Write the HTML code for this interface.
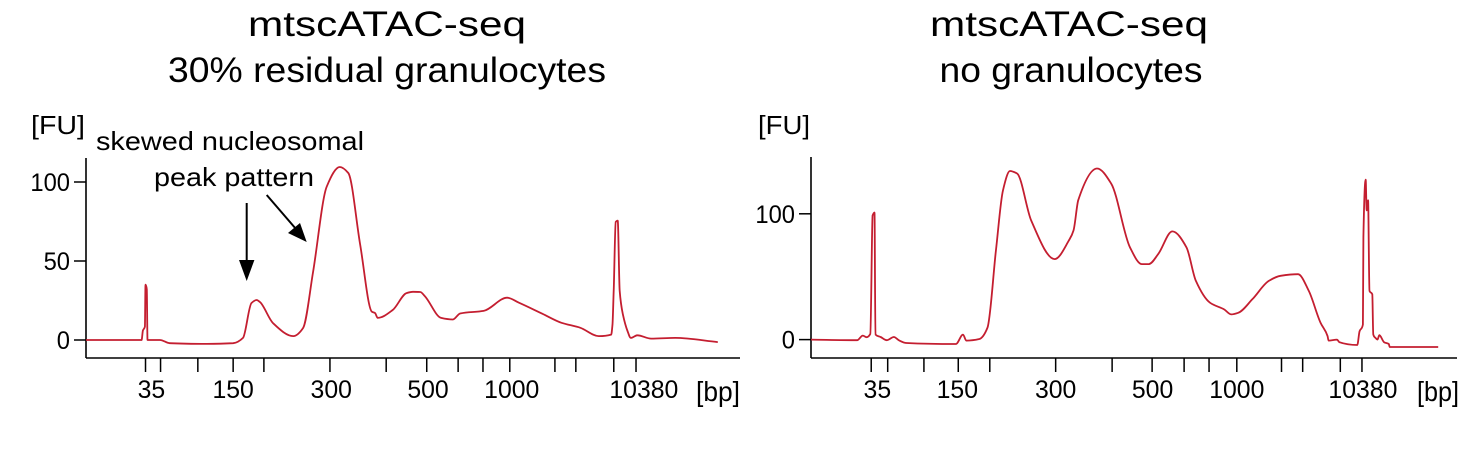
<!DOCTYPE html>
<html><head><meta charset="utf-8"><style>
html,body{margin:0;padding:0;background:#fff;}
svg{display:block;font-family:"Liberation Sans",Arial,sans-serif;}
</style></head><body>
<svg id="chart" width="1477" height="457" viewBox="0 0 1477 457">
<text x="387" y="36" font-size="35" text-anchor="middle" textLength="278" lengthAdjust="spacingAndGlyphs">mtscATAC-seq</text>
<text x="387" y="82" font-size="35" text-anchor="middle" textLength="438" lengthAdjust="spacingAndGlyphs">30% residual granulocytes</text>
<text x="1069" y="36" font-size="35" text-anchor="middle" textLength="278" lengthAdjust="spacingAndGlyphs">mtscATAC-seq</text>
<text x="1071" y="82" font-size="35" text-anchor="middle" textLength="263" lengthAdjust="spacingAndGlyphs">no granulocytes</text>
<text x="31" y="134" font-size="26" textLength="54" lengthAdjust="spacingAndGlyphs">[FU]</text>
<text x="758" y="134" font-size="26" textLength="52" lengthAdjust="spacingAndGlyphs">[FU]</text>
<text x="96" y="150" font-size="26" textLength="268" lengthAdjust="spacingAndGlyphs">skewed nucleosomal</text>
<text x="154" y="186" font-size="26" textLength="160" lengthAdjust="spacingAndGlyphs">peak pattern</text>
<g>
<line x1="246.7" y1="203" x2="246.7" y2="265" stroke="#000" stroke-width="2"/>
<polygon points="239,260 254.4,260 246.7,281" fill="#000"/>
</g>
<g>
<line x1="266.7" y1="195" x2="296" y2="229" stroke="#000" stroke-width="2"/>
<polygon points="288,233 300,223 306.7,242" fill="#000"/>
</g>
<text x="696" y="401" font-size="28" textLength="44" lengthAdjust="spacingAndGlyphs">[bp]</text>
<text x="1417" y="401" font-size="28" textLength="42" lengthAdjust="spacingAndGlyphs">[bp]</text>
<g id="g"></g>
</svg>
<script>
// Left chart data (migration time units, FU)
const leftTime = [0,8.5,8.7,9.0,9.1,9.3,9.4,11.3,12.8,18.5,22.5,24.0,25.3,26.1,26.6,28.6,31.7,33.2,34.7,36.8,38.8,40.1,41.9,43.7,44.2,44.6,46.9,49.0,50.0,51.1,51.8,54.3,56.1,57.2,60.8,64.4,66.2,69.8,72.7,75.6,78.4,80.3,80.5,80.7,81.0,81.3,81.6,82.1,82.8,83.3,84.3,86.4,90.1,96.6];
const leftFU = [0,0,6,8.4,35,32,0,0,-2,-2.5,-2,1.3,23.4,25.3,24,10.7,2.5,7.6,42.4,97,109.5,105.7,61,18,17,14,19,29.7,30.5,30.4,27.8,14,13,16.8,18.4,26.8,23.6,16.6,10.9,7.7,2.5,3.4,9.8,33,74.7,75.6,31,16.2,5.7,1.3,3,0.9,1.3,-1.3];
const leftTickTimes = [9.1,11.4,17.1,22.5,27.2,37.3,45.9,52.1,56.9,60.7,64.8,71.7,74.9,80.7,84.1];
const leftLabelTimes = [10,22.5,37.5,52.3,65.1,85.3];
const leftLabels = ["35","150","300","500","1000","10380"];
const leftYTicks = [0,50,100];

// Right chart data
const rightTime = [152,250,262,270,278,283,287,289,300,313,328,340,355,460,475,482,510,527,545,560,575,590,620,670,700,710,720,760,790,830,855,870,890,920,950,970,1000,1030,1045,1060,1090,1125,1150,1187,1210,1235,1250,1252,1270,1275,1313,1318,1325,1326,1331,1333,1336,1339,1345,1347,1352,1356,1360,1370,1380,1382,1485];
const rightFU = [0,-0.5,3.2,1.9,4.5,98.7,101,4,2.1,-0.5,2.1,-0.8,-2.7,-3.5,4,-0.8,0.5,9.3,70.7,118.7,134,132,94.7,64,78.7,86.7,110.7,136,124,73.3,60,60,68,86,73.3,46.7,29.3,24,20,21.3,32,46.7,50.7,52,38.7,13.3,2.7,-0.8,0,-2.1,-4.3,6.7,12,81.3,127.2,102.7,110.7,38.7,36,4,1.3,0,3.5,-2.1,-3.5,-5.9,-5.9];
const rightTickTimes = [280,315,392,465,532,672,792,877,945,998,1057,1152,1197,1277,1323];
const rightLabelTimes = [293,463,672,878,1057,1325];
const rightLabels = ["35","150","300","500","1000","10380"];
const rightYTicks = [0,100];

const NS="http://www.w3.org/2000/svg";
const root=document.getElementById('g');
function mk(tag,attrs,parent){const e=document.createElementNS(NS,tag);for(const k in attrs)e.setAttribute(k,attrs[k]);(parent||root).appendChild(e);return e;}

// monotone cubic path through points
function monotonePath(X,Y){
  const n=X.length;const dx=[],m=[],t=new Array(n);
  for(let i=0;i<n-1;i++){dx[i]=X[i+1]-X[i];m[i]=dx[i]?(Y[i+1]-Y[i])/dx[i]:0;}
  t[0]=m[0];t[n-1]=m[n-2];
  for(let i=1;i<n-1;i++){
    if(m[i-1]*m[i]<=0)t[i]=0;
    else{const w1=2*dx[i]+dx[i-1],w2=dx[i]+2*dx[i-1];t[i]=(w1+w2)/(w1/m[i-1]+w2/m[i]);}
  }
  let d='M'+X[0].toFixed(1)+' '+Y[0].toFixed(1);
  for(let i=0;i<n-1;i++){
    const h=dx[i]/3;
    d+=' C'+(X[i]+h).toFixed(1)+' '+(Y[i]+t[i]*h).toFixed(1)+' '+(X[i+1]-h).toFixed(1)+' '+(Y[i+1]-t[i+1]*h).toFixed(1)+' '+X[i+1].toFixed(1)+' '+Y[i+1].toFixed(1);
  }
  return d;
}

function drawPanel(p){
  const xs=t=>p.x0+(t-p.t0)/(p.t1-p.t0)*(p.x1-p.x0);
  const ys=v=>p.yZero-v*p.pxPerFU;
  const g=mk('g',{});
  
  
  const ya=mk('line',{x1:p.x0,y1:p.yTop,x2:p.x0,y2:p.yAxis,stroke:'#000','stroke-width':1.6},g);
  
  
  const xa=mk('line',{x1:p.x0,y1:p.yAxis,x2:p.xEnd,y2:p.yAxis,stroke:'#000','stroke-width':1.6},g);
  
  
  p.yTicks.forEach(v=>{
    const y=ys(v);
    const tk=mk('line',{x1:p.x0-12,y1:y,x2:p.x0,y2:y,stroke:'#000','stroke-width':1.5},g);
    
    
    const s=String(v);
    const tl=mk('text',{x:p.x0-16,y:y+9,'font-size':25,'text-anchor':'end',textLength:s.length*13.2,lengthAdjust:'spacingAndGlyphs'},g);
    tl.textContent=s;
    
    
  });
  p.ticks.forEach(t=>{
    const x=xs(t);
    const tk=mk('line',{x1:x,y1:p.yAxis,x2:x,y2:p.yAxis+14,stroke:'#000','stroke-width':1.5},g);
    
    
  });
  p.labelTimes.forEach((t,i)=>{
    const s=p.labels[i];
    const tl=mk('text',{x:xs(t),y:398,'font-size':25,'text-anchor':'middle',textLength:s.length*13.8,lengthAdjust:'spacingAndGlyphs'},g);
    tl.textContent=s;
    
    
  });
  const d=monotonePath(p.time.map(xs),p.fu.map(ys));
  const path=mk('path',{d:d,fill:'none',stroke:'#c41e30','stroke-width':1.8,'stroke-linejoin':'round'},g);
  
  
}
drawPanel({name:'left',x0:86,x1:740,t0:0,t1:100,xEnd:740,yZero:340,pxPerFU:1.58,yTop:158,yAxis:358,
  time:leftTime,fu:leftFU,ticks:leftTickTimes,labelTimes:leftLabelTimes,labels:leftLabels,yTicks:leftYTicks});
drawPanel({name:'right',x0:811,x1:1457,t0:152,t1:1525,xEnd:1457,yZero:339.6,pxPerFU:1.258,yTop:157,yAxis:358,
  time:rightTime,fu:rightFU,ticks:rightTickTimes,labelTimes:rightLabelTimes,labels:rightLabels,yTicks:rightYTicks});
</script>
</body></html>
